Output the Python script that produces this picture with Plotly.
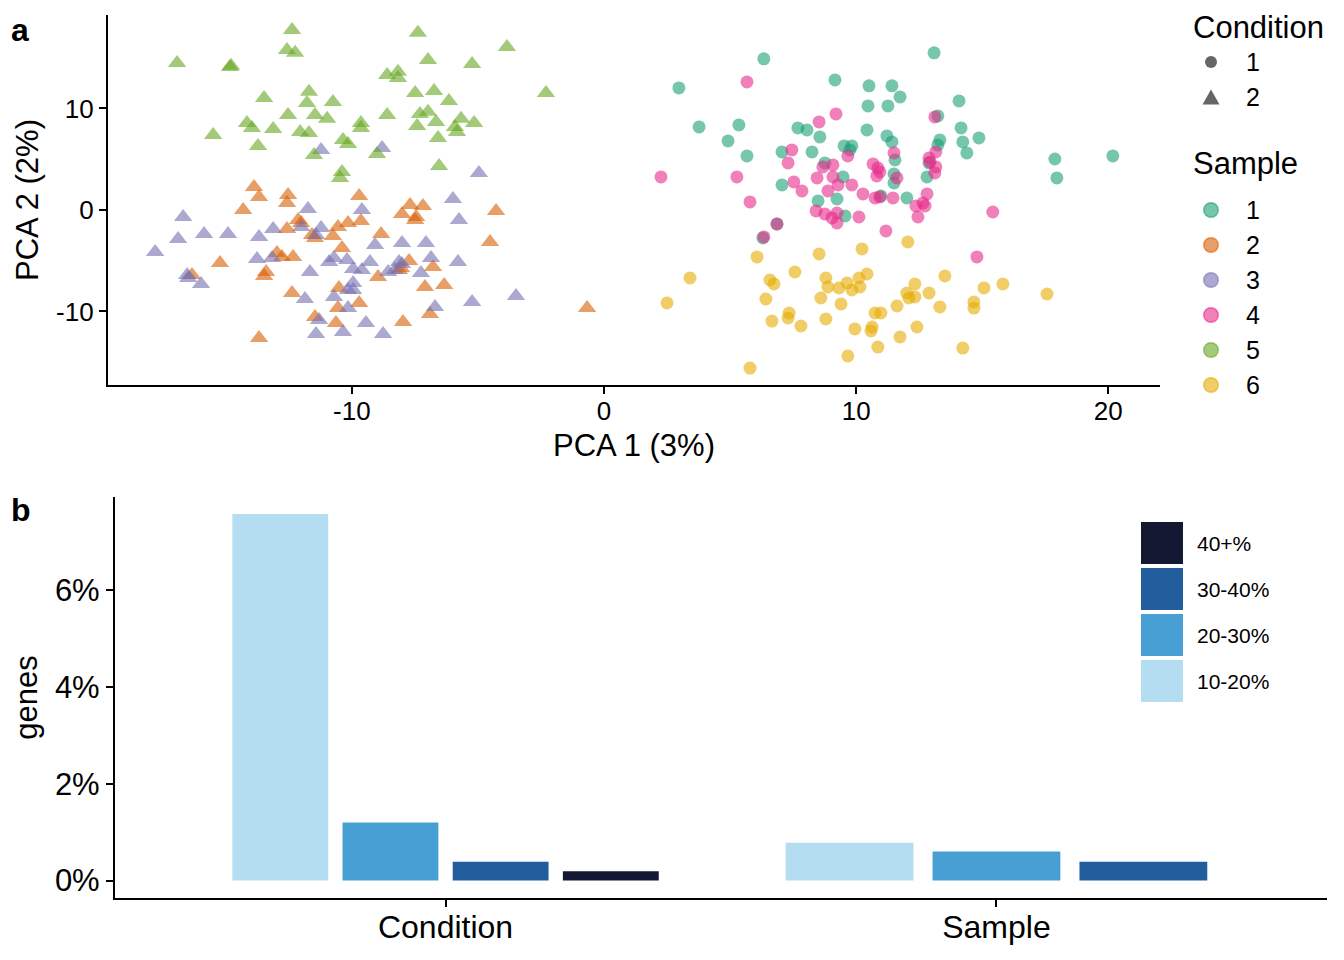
import plotly.graph_objects as go

FONT = "Liberation Sans, Arial, Helvetica, sans-serif"

# ---------------- PCA data (panel a) ----------------
s1_x = [6.34, 2.97, 3.77, 4.92, 5.35, 5.67, 9.16, 10.51, 11.42, 10.47, 11.26, 11.74, 7.69, 8.05, 8.56, 8.25,
        9.52, 9.83, 9.75, 10.43, 11.22, 11.42, 7.06, 8.76, 9.48, 7.06, 8.49, 9.24, 9.56, 6.86, 6.30, 11.50,
        11.54, 13.09, 14.08, 13.24, 14.16, 14.87, 14.23, 14.39, 13.32, 13.24, 12.89, 12.81, 11.50, 12.01,
        10.98, 17.88, 17.96, 20.18]
s1_y = [14.88, 12.02, 8.18, 6.80, 8.37, 5.32, 12.81, 12.22, 12.22, 10.25, 10.25, 11.13, 8.08, 7.88, 7.19, 5.71,
        6.31, 6.31, 5.91, 7.88, 7.29, 6.70, 5.71, 4.63, 3.25, 2.46, 0.89, 1.08, -0.59, -1.38, -2.76, 2.66,
        4.93, 15.47, 10.74, 9.26, 8.08, 7.09, 6.70, 5.62, 6.90, 6.40, 4.63, 3.25, 3.55, 1.18,
        1.38, 5.02, 3.15, 5.32]

s2_x = [-13.88, -13.68, -12.53, -12.57, -14.31, -12.13, -12.01, -12.57, -11.58, -11.46, -10.75, -10.55, -10.15,
        -10.39, -15.23, -12.97, -12.77, -12.33, -13.40, -13.48, -16.34, -12.37, -10.51, -10.55, -11.46, -10.63,
        -13.68, -9.71, -7.69, -7.18, -8.01, -7.45, -7.49, -4.28, -9.64, -8.84, -4.52, -7.73, -8.13, -8.05,
        -6.78, -8.96, -7.10, -6.34, -9.71, -6.90, -7.97, -0.67]
s2_y = [2.27, 1.28, 1.48, 0.69, 0.00, -0.99, -1.28, -1.87, -2.46, -2.76, -2.56, -1.67, -1.28,
        -3.74, -5.22, -4.24, -4.63, -4.63, -6.11, -6.50, -6.40, -8.18, -7.68, -9.66, -10.54, -11.13,
        -12.61, 1.38, 0.49, 0.39, -0.39, -0.69, -0.99, -0.10, -1.08, -2.36, -3.15, -5.02, -5.91, -5.71,
        -5.62, -6.60, -7.59, -7.39, -9.16, -10.25, -11.03, -9.66]

s3_x = [-16.69, -16.89, -15.86, -14.91, -17.80, -13.68, -13.12, -11.74, -12.01, -11.22, -11.42, -13.76, -13.16,
        -16.53, -16.49, -15.98, -11.66, -10.90, -10.71, -10.19, -11.86, -10.71, -10.15, -10.15, -11.30, -11.42,
        -10.35, -4.96, -5.99, -5.75, -9.60, -9.08, -8.01, -7.06, -9.28, -8.13, -8.01, -6.86, -5.79, -9.95,
        -9.60, -8.56, -7.26, -8.29, -9.95, -9.95, -6.70, -5.23, -3.49, -9.44, -8.76, -11.22, -8.80]
s3_y = [-0.69, -2.86, -2.36, -2.36, -4.14, -2.66, -1.87, 0.10, -1.67, -1.77, -2.46, -4.83, -4.73,
        -6.40, -6.70, -7.29, -6.11, -5.12, -4.73, -4.93, -8.77, -8.57, -7.88, -9.66, -10.84, -12.22,
        -12.02, 3.65, 1.08, -0.99, 0.00, -3.45, -3.25, -3.25, -5.12, -5.12, -5.32, -4.73, -5.12, -5.81,
        -5.91, -6.11, -6.21, -5.91, -7.19, -7.88, -9.56, -9.06, -8.47, -11.13, -12.22, 5.91, 6.11]

s4_x = [5.67, 9.20, 8.53, 7.45, 7.30, 9.67, 2.26, 5.27, 5.79, 8.68, 9.08, 8.45, 9.08, 7.53, 7.85, 8.88,
        9.28, 9.83, 10.27, 10.67, 10.86, 10.82, 10.75, 11.46, 11.50, 11.62, 8.41, 8.76, 9.04, 9.24, 9.24,
        10.11, 11.18, 6.86, 6.34, 13.12, 13.16, 12.89, 12.93, 13.16, 13.12, 10.94, 12.81, 12.37, 12.65,
        12.73, 12.45, 15.42, 14.79, 10.94]
s4_y = [12.61, 9.46, 8.67, 5.91, 4.63, 5.32, 3.25, 3.25, 0.79, 4.24, 4.43, 3.15, 3.25, 2.76, 1.87, 1.87,
        2.46, 2.46, 1.58, 4.53, 4.14, 3.35, 1.18, 1.18, 5.62, 3.15, -0.10, -0.39, -0.79, -0.30, -1.28,
        -0.69, -2.07, -1.38, -2.66, 9.16, 5.71, 5.12, 4.73, 4.24, 3.65, 3.74, 1.58, 0.39, 0.69,
        0.39, -0.69, -0.20, -4.63, 1.28]

s5_x = [-16.93, -14.83, -14.79, -13.48, -12.37, -12.57, -12.25, -11.70, -11.78, -10.75, -12.53, -11.46, -10.98,
        -14.16, -13.96, -13.12, -12.05, -11.70, -15.50, -13.72, -11.50, -10.35, -10.15, -10.39, -10.47, -7.38,
        -3.85, -6.98, -5.23, -8.60, -8.17, -8.17, -7.49, -6.74, -6.15, -2.30, -8.60, -7.30, -6.98, -7.41,
        -6.66, -5.67, -5.15, -5.91, -5.83, -6.58, -9.64, -9.64, -9.00, -6.54]
s5_y = [14.48, 14.09, 14.19, 11.03, 17.73, 15.76, 15.47, 11.63, 10.54, 10.64, 9.36, 9.36, 8.97,
        8.57, 8.08, 7.98, 7.68, 7.59, 7.39, 6.31, 5.42, 6.90, 6.50, 3.74, 3.15, 17.44,
        16.06, 14.78, 14.38, 13.30, 13.60, 13.00, 11.53, 11.72, 10.74, 11.53, 9.36, 9.46, 9.66, 8.28,
        8.67, 8.97, 8.57, 8.18, 7.68, 7.09, 8.57, 8.08, 5.52, 4.33]

s6_x = [6.07, 3.41, 2.50, 8.53, 10.23, 7.57, 6.58, 6.74, 6.42, 8.80, 8.88, 9.32, 9.64, 10.11, 10.43, 9.83,
        10.15, 8.60, 9.40, 11.62, 7.34, 7.30, 6.66, 7.81, 8.80, 10.75, 10.98, 9.95, 10.63, 10.59, 11.74,
        10.86, 9.67, 5.79, 12.05, 13.52, 12.33, 12.01, 12.09, 12.33, 12.89, 13.32, 15.07, 15.82, 17.57,
        14.67, 14.67, 12.41, 14.23]
s6_y = [-4.63, -6.70, -9.16, -4.33, -3.84, -6.11, -6.90, -7.29, -8.77, -6.70, -7.59, -7.68, -7.19, -6.70, -6.31, -7.88,
        -7.59, -8.67, -9.26, -9.46, -10.15, -10.64, -10.94, -11.43, -10.74, -10.15, -10.15, -11.72, -11.53, -11.92, -12.51,
        -13.50, -14.38, -15.57, -3.15, -6.50, -7.29, -8.18, -8.67, -8.57, -8.18, -9.56, -7.68, -7.29, -8.28,
        -9.06, -9.66, -11.53, -13.60]

sample_names = ["1", "2", "3", "4", "5", "6"]
sample_condition = ["1", "2", "2", "1", "2", "1"]
sample_x = [s1_x, s2_x, s3_x, s4_x, s5_x, s6_x]
sample_y = [s1_y, s2_y, s3_y, s4_y, s5_y, s6_y]
condition_names = ["1", "2"]

sample_rgb = [(27, 158, 119), (217, 95, 2), (117, 112, 179), (231, 41, 138), (102, 166, 30), (230, 171, 2)]
condition_symbols = {"1": "circle", "2": "triangle-up"}
condition_sizes = {"1": 13, "2": 16}
ALPHA = 0.6

# ---------------- Bar data (panel b) ----------------
bar_categories = ["Condition", "Sample"]
bar_ranges = ["10-20%", "20-30%", "30-40%", "40+%"]
condition_pct = [7.57, 1.20, 0.39, 0.19]
sample_pct = [0.78, 0.60, 0.39, None]
bar_colors = {"10-20%": "#B5DDF1", "20-30%": "#479FD3", "30-40%": "#225E9E", "40+%": "#131933"}


def rgba(c, a):
    return "rgba(%d,%d,%d,%.2f)" % (c[0], c[1], c[2], a)


fig = go.Figure()

# scatter points
for name, cond, xs, ys, c in zip(sample_names, sample_condition, sample_x, sample_y, sample_rgb):
    fig.add_trace(go.Scatter(
        x=xs, y=ys, mode="markers", name="Sample " + name, showlegend=False, xaxis="x", yaxis="y",
        marker=dict(symbol=condition_symbols[cond], size=condition_sizes[cond], color=rgba(c, 1),
                    opacity=ALPHA, line=dict(width=0))))

# bars with dodge
bar_table = {"Condition": condition_pct, "Sample": sample_pct}
GROUP = 0.8
for ri, rng in enumerate(bar_ranges):
    xs, ys, ws = [], [], []
    for ci, cat in enumerate(bar_categories):
        vals = bar_table[cat]
        present = [i for i, v in enumerate(vals) if v is not None]
        n = len(present)
        if vals[ri] is None:
            continue
        slot = GROUP / n
        k = present.index(ri)
        xs.append(ci + (k - (n - 1) / 2) * slot)
        ys.append(vals[ri])
        ws.append(slot * 0.87)
    fig.add_trace(go.Bar(x=xs, y=ys, width=ws, marker=dict(color=bar_colors[rng], line=dict(width=0)),
                         name=rng, showlegend=False, xaxis="x2", yaxis="y2"))

W, H = 1344, 960
OFF = 8  # page body margin


def px(x):
    return (x - OFF) / W


def py(y):
    return 1 - (y - OFF) / H


axis_common = dict(showline=True, linecolor="black", linewidth=2.2, ticks="outside", ticklen=7,
                   tickwidth=2, tickcolor="black", showgrid=False, zeroline=False,
                   tickfont=dict(family=FONT, color="black"))

fig.update_layout(
    width=W, height=H, margin=dict(l=0, r=0, t=0, b=0),
    paper_bgcolor="white", plot_bgcolor="white",
    font=dict(family=FONT, color="black"),
    showlegend=False,
    xaxis=dict(**axis_common, domain=[px(108), px(1160)], range=[-19.67, 22.05], anchor="y",
               tickvals=[-10, 0, 10, 20], ticktext=["-10", "0", "10", "20"], ticklabelstandoff=-5,
               title=dict(text="PCA 1 (3%)", font=dict(size=31, family=FONT), standoff=9)),
    yaxis=dict(**axis_common, domain=[py(385), py(15)], range=[-17.24, 19.2], anchor="x",
               tickvals=[-10, 0, 10], ticktext=["-10", "0", "10"],
               title=dict(text="PCA 2 (2%)", font=dict(size=31, family=FONT), standoff=8)),
    xaxis2=dict(**axis_common, domain=[px(115), px(1327)], range=[-0.6, 1.6], anchor="y2",
                tickvals=[0, 1], ticktext=bar_categories, ticklabelstandoff=-8),
    yaxis2=dict(**axis_common, domain=[py(898), py(497)], range=[-0.36, 7.92], anchor="x2",
                tickvals=[0, 2, 4, 6], ticktext=["0%", "2%", "4%", "6%"],
                title=dict(text="genes", font=dict(size=31, family=FONT), standoff=8)),
)
fig.update_xaxes(tickfont_size=26, selector=dict(anchor="y"))
fig.update_yaxes(tickfont_size=26, selector=dict(anchor="x"))
fig.update_xaxes(tickfont_size=32, selector=dict(anchor="y2"))
fig.update_yaxes(tickfont_size=31, selector=dict(anchor="x2"))


def label(text, x, y, size, xanchor="left", yanchor="middle"):
    fig.add_annotation(text=text, x=px(x), y=py(y), xref="paper", yref="paper", xanchor=xanchor,
                       yanchor=yanchor, showarrow=False, font=dict(size=size, family=FONT, color="black"))


# panel labels
label("<b>a</b>", 9, 30, 32)
label("<b>b</b>", 9, 510, 32)

# ---- legend: Condition (shape) ----
LEG_KEY_X, LEG_TEXT_X, LEG_STEP = 1211, 1244, 35
label("Condition", 1191, 8, 31, yanchor="top")
for i, cond in enumerate(condition_names):
    cy = 62 + i * LEG_STEP
    if condition_symbols[cond] == "circle":
        r = 6
        fig.add_shape(type="circle", xref="paper", yref="paper", x0=px(LEG_KEY_X - r), x1=px(LEG_KEY_X + r),
                      y0=py(cy + r), y1=py(cy - r), fillcolor="rgba(0,0,0,0.6)", line=dict(width=0))
    else:
        hw, h = 8.5, 15
        path = "M %f,%f L %f,%f L %f,%f Z" % (px(LEG_KEY_X - hw), py(cy + h / 2), px(LEG_KEY_X + hw),
                                              py(cy + h / 2), px(LEG_KEY_X), py(cy - h / 2))
        fig.add_shape(type="path", xref="paper", yref="paper", path=path, fillcolor="rgba(0,0,0,0.6)",
                      line=dict(width=0))
    label(cond, LEG_TEXT_X, cy, 25)

# ---- legend: Sample (colour) ----
label("Sample", 1191, 163, 31)
for i, (name, c) in enumerate(zip(sample_names, sample_rgb)):
    cy = 210 + i * LEG_STEP
    r = 7.3
    fig.add_shape(type="circle", xref="paper", yref="paper", x0=px(LEG_KEY_X - r), x1=px(LEG_KEY_X + r),
                  y0=py(cy + r), y1=py(cy - r), fillcolor=rgba(c, ALPHA), line=dict(width=1.4, color=rgba(c, ALPHA)))
    label(name, LEG_TEXT_X, cy, 25)

# ---- legend: bar ranges (large keys) ----
KEY_LEFT, KEY_SIZE, KEY_GAP, KEY_TOP = 1141, 42, 4, 522
for i, rng in enumerate(reversed(bar_ranges)):
    top = KEY_TOP + i * (KEY_SIZE + KEY_GAP)
    fig.add_shape(type="rect", xref="paper", yref="paper", x0=px(KEY_LEFT), x1=px(KEY_LEFT + KEY_SIZE),
                  y0=py(top + KEY_SIZE), y1=py(top), fillcolor=bar_colors[rng], line=dict(width=0))
    label(rng, KEY_LEFT + KEY_SIZE + 12, top + KEY_SIZE / 2, 21)

fig.write_html("out.html")
